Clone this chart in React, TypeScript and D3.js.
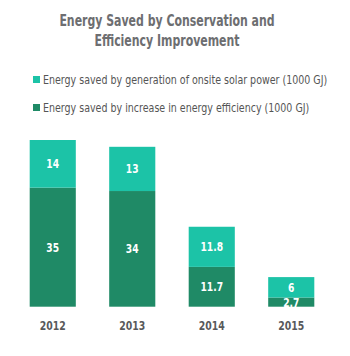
import { useEffect, useRef } from 'react';
import * as d3 from 'd3';

// Chart data
const years = ['2012', '2013', '2014', '2015'];
const solarValues = [14, 13, 11.8, 6];
const efficiencyValues = [35, 34, 11.7, 2.7];
const legendLabels = [
  'Energy saved by generation of onsite solar power (1000 GJ)',
  'Energy saved by increase in energy efficiency (1000 GJ)',
];
const titleLines = ['Energy Saved by Conservation and', 'Efficiency Improvement'];

const LIGHT = '#1cc3a7';
const DARK = '#1f8a66';
const FONT = '"DejaVu Sans Condensed", "Roboto", sans-serif';

export default function App() {
  const svgRef = useRef<SVGSVGElement>(null);
  const width = 350;
  const height = 356;

  useEffect(() => {
    if (!svgRef.current) return;
    const svg = d3.select(svgRef.current);
    svg.selectAll('*').remove();

    // Title (narrowed horizontally to mimic the condensed face)
    titleLines.forEach((line, i) => {
      svg.append('g')
        .attr('transform', `translate(167, ${26 + i * 20}) scale(0.76, 1)`)
        .append('text')
        .attr('text-anchor', 'middle')
        .attr('font-family', FONT)
        .attr('font-weight', 700)
        .attr('font-size', 16)
        .attr('fill', '#6d6e71')
        .text(line);
    });

    // Legend
    const legendColors = [LIGHT, DARK];
    legendLabels.forEach((label, i) => {
      const cy = 80 + i * 28;
      svg.append('rect')
        .attr('x', 33)
        .attr('y', cy - 4)
        .attr('width', 7)
        .attr('height', 7)
        .attr('fill', legendColors[i]);
      svg.append('g')
        .attr('transform', `translate(43, ${cy + 4}) scale(0.88, 1)`)
        .append('text')
        .attr('font-family', FONT)
        .attr('font-size', 12)
        .attr('fill', '#555')
        .text(label);
    });

    // Scales
    const x = d3.scaleBand<string>()
      .domain(years)
      .range([13, 331])
      .paddingInner(0.42)
      .paddingOuter(0.21);

    const y = d3.scaleLinear()
      .domain([0, 49])
      .range([306.7, 140]);

    const rows = years.map((year, i) => ({
      year,
      efficiency: efficiencyValues[i],
      solar: solarValues[i],
    }));

    const stacked = d3.stack<typeof rows[number]>()
      .keys(['efficiency', 'solar'])(rows);

    const colors = [DARK, LIGHT];

    const bars = svg.append('g');
    stacked.forEach((series, si) => {
      bars.append('g')
        .attr('fill', colors[si])
        .selectAll('rect')
        .data(series)
        .join('rect')
        .attr('x', d => x(d.data.year)!)
        .attr('width', x.bandwidth())
        .attr('y', d => y(d[1]))
        .attr('height', d => y(d[0]) - y(d[1]));

      bars.append('g')
        .selectAll('g')
        .data(series)
        .join('g')
        .attr('transform', d =>
          `translate(${x(d.data.year)! + x.bandwidth() / 2}, ${(y(d[0]) + y(d[1])) / 2 + 4.5}) scale(0.85, 1)`)
        .append('text')
        .attr('text-anchor', 'middle')
        .attr('font-family', FONT)
        .attr('font-weight', 700)
        .attr('font-size', 12)
        .attr('fill', '#fff')
        .text(d => String(+(d[1] - d[0]).toFixed(1)));
    });

    // X axis labels
    const axis = svg.append('g')
      .attr('transform', `translate(0, ${y(0)})`)
      .call(d3.axisBottom(x).tickSize(0).tickPadding(14));
    axis.select('.domain').remove();
    axis.selectAll('text')
      .attr('transform', 'scale(0.8, 1)')
      .attr('font-family', FONT)
      .attr('font-weight', 700)
      .attr('font-size', 13)
      .attr('fill', '#58595b');
  }, []);

  return (
    <svg
      ref={svgRef}
      width={width}
      height={height}
      style={{ position: 'absolute', left: 0, top: 0, background: '#fff' }}
    />
  );
}
